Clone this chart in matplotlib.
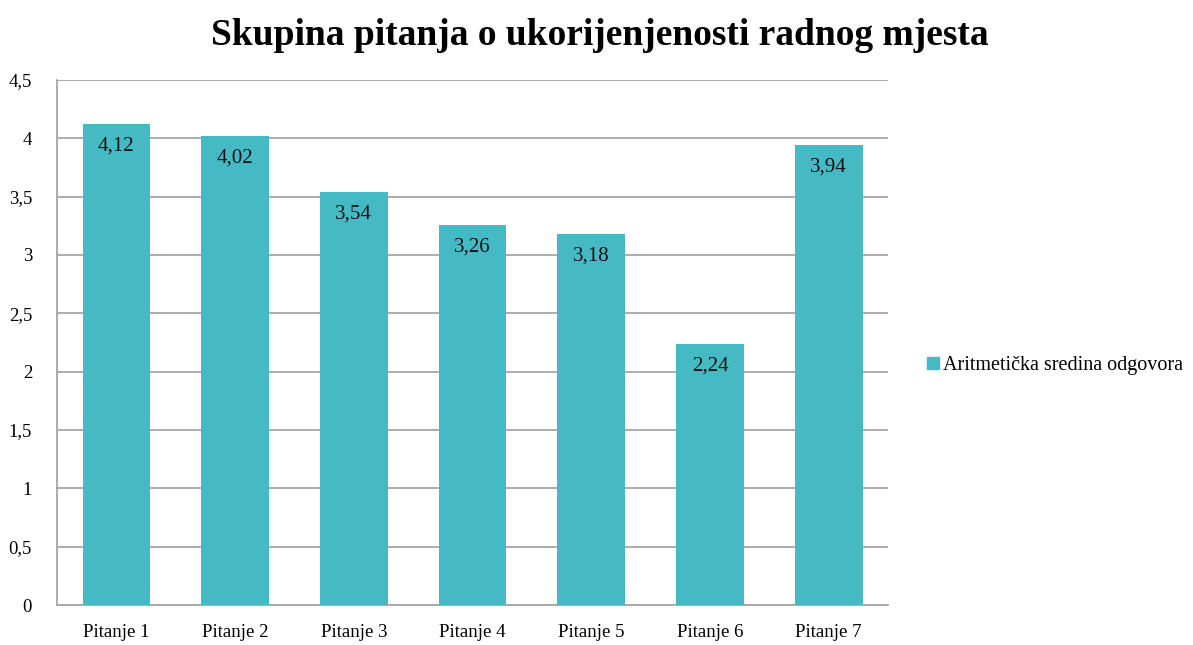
import matplotlib.pyplot as plt
from matplotlib.lines import Line2D

categories = ["Pitanje 1", "Pitanje 2", "Pitanje 3", "Pitanje 4", "Pitanje 5", "Pitanje 6", "Pitanje 7"]
values = [4.12, 4.02, 3.54, 3.26, 3.18, 2.24, 3.94]
value_labels = ["4,12", "4,02", "3,54", "3,26", "3,18", "2,24", "3,94"]
yticks = [0, 0.5, 1, 1.5, 2, 2.5, 3, 3.5, 4, 4.5]
ytick_labels = ["0", "0,5", "1", "1,5", "2", "2,5", "3", "3,5", "4", "4,5"]
series_name = "Aritmetička sredina odgovora"

bar_color = "#45BAC5"
grid_color = "#A6A6A6"

plt.rcParams["font.family"] = ["Liberation Serif", "DejaVu Serif"]

fig = plt.figure(figsize=(11.93, 6.45), dpi=100)
ax = fig.add_axes([0.0478, 0.062, 0.6966, 0.814])

x = range(len(categories))
bars = ax.bar(x, values, width=0.57, color=bar_color, zorder=3)

for xi, v, lab in zip(x, values, value_labels):
    ax.text(xi, v - 0.19, lab, ha="center", va="center", fontsize=15, color="#111111", zorder=4)

ax.set_xlim(-0.5, len(categories) - 0.5)
ax.set_ylim(0, 4.5)
ax.set_yticks(yticks)
ax.set_yticklabels(ytick_labels, fontsize=13.5)
ax.set_xticks(list(x))
ax.set_xticklabels(categories, fontsize=13.5)
ax.tick_params(axis="x", length=0, pad=14)
ax.tick_params(axis="y", length=0, pad=18)

ax.yaxis.grid(True, color=grid_color, linewidth=1.3, zorder=0)
for side in ["top", "right"]:
    ax.spines[side].set_visible(False)
for side in ["left", "bottom"]:
    ax.spines[side].set_color(grid_color)
    ax.spines[side].set_linewidth(1.3)

handle = Line2D([], [], marker="s", linestyle="none", markersize=8,
                markerfacecolor=bar_color, markeredgecolor=bar_color)
ax.legend([handle], [series_name], loc="center left", bbox_to_anchor=(1.02, 0.457),
          frameon=False, fontsize=14.5, handletextpad=0.0, handlelength=1.0)

fig.suptitle("Skupina pitanja o ukorijenjenosti radnog mjesta", x=0.503, y=0.972,
             fontsize=27, fontweight="bold")

fig.savefig("out.png", dpi=100)
